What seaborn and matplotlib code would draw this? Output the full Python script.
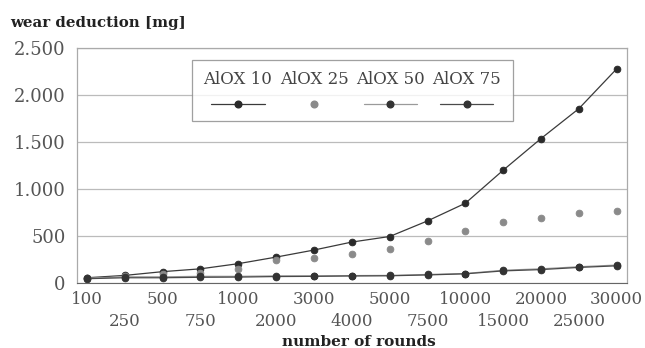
import matplotlib
matplotlib.use("Agg")
import matplotlib.pyplot as plt
from matplotlib.lines import Line2D
from matplotlib.offsetbox import VPacker
import seaborn as sns
import numpy as np
import pandas as pd

rounds = ["100", "250", "500", "750", "1000", "2000", "3000", "4000", "5000",
          "7500", "10000", "15000", "20000", "25000", "30000"]
alox10 = [55, 80, 120, 150, 205, 275, 350, 435, 494, 660, 848, 1200, 1537, 1855, 2279]
alox25 = [50, 75, 100, 110, 150, 240, 265, 310, 360, 450, 554, 653, 689, 742, 766]
alox50 = [50, 65, 65, 70, 70, 75, 75, 78, 80, 90, 100, 135, 150, 172, 190]
alox75 = [45, 55, 55, 60, 62, 68, 70, 74, 76, 85, 97, 128, 142, 165, 182]
series_names = ["AlOX 10", "AlOX 25", "AlOX 50", "AlOX 75"]

sns.set_style("white")
plt.rcParams["font.family"] = ["DejaVu Serif"]

fig = plt.figure(figsize=(6.45, 3.48), dpi=100)
ax = fig.add_axes([0.119, 0.187, 0.853, 0.675])

styles = [
    dict(color="#3a3a3a", linestyles="-", mcolor="#2a2a2a"),
    dict(color="#8a8a8a", linestyles="none", mcolor="#8a8a8a"),
    dict(color="#9a9a9a", linestyles="-", mcolor="#333333"),
    dict(color="#4a4a4a", linestyles="-", mcolor="#333333"),
]
all_vals = [alox10, alox25, alox50, alox75]

for name, vals, st in zip(series_names, all_vals, styles):
    df = pd.DataFrame({"rounds": rounds, "wear": vals})
    sns.pointplot(data=df, x="rounds", y="wear", order=rounds, ax=ax,
                  color=st["mcolor"], markers="o", linestyles=st["linestyles"],
                  markersize=4.8, linewidth=0.9, errorbar=None)
    if st["linestyles"] != "none":
        ax.lines[-1].set_color(st["color"])
        ax.lines[-1].set_markerfacecolor(st["mcolor"])
        ax.lines[-1].set_markeredgecolor(st["mcolor"])

ax.set_ylim(0, 2500)
ax.set_xlim(-0.27, 14.27)
ax.set_yticks([0, 500, 1000, 1500, 2000, 2500])
ax.set_yticklabels(["0", "500", "1.000", "1.500", "2.000", "2.500"],
                   fontsize=13, color="#555555")

# staggered category labels: even positions on the first row, odd on the second
pos = np.arange(len(rounds))
ax.set_xticks(pos[::2])
ax.set_xticklabels(rounds[::2], fontsize=12, color="#555555")
ax.set_xticks(pos[1::2], minor=True)
ax.set_xticklabels(rounds[1::2], minor=True, fontsize=12, color="#555555")
ax.tick_params(axis="x", which="major", length=3, color="#888888", pad=3)
ax.tick_params(axis="x", which="minor", length=3, color="#888888", pad=19)
ax.tick_params(axis="y", length=0, pad=8)
ax.yaxis.grid(True, color="#bbbbbb", linewidth=0.9)
ax.set_axisbelow(True)
for side in ["left", "right", "top"]:
    ax.spines[side].set_color("#aaaaaa")
    ax.spines[side].set_linewidth(0.9)
ax.spines["bottom"].set_color("#666666")
ax.set_xlabel("")
ax.set_ylabel("")

fig.text(0.016, 0.935, "wear deduction [mg]", fontsize=10.8, fontweight="bold",
         color="#222222", ha="left", va="center")
fig.text(0.556, 0.016, "number of rounds", fontsize=11, fontweight="bold",
         color="#222222", ha="center", va="center")

handles = []
for st in styles:
    handles.append(Line2D([], [], color=st["color"], linestyle="-" if st["linestyles"] != "none" else "none",
                          linewidth=0.9, marker="o", markersize=4.8,
                          markerfacecolor=st["mcolor"], markeredgecolor=st["mcolor"]))
leg = ax.legend(handles, series_names, ncol=4, loc="upper left",
                bbox_to_anchor=(0.209, 0.95), borderaxespad=0, fontsize=12,
                frameon=True, fancybox=False, edgecolor="#888888", handlelength=3.2,
                columnspacing=0.45, borderpad=0.7, labelcolor="#444444")
leg.get_frame().set_linewidth(0.9)
for col in leg._legend_handle_box.get_children():
    new = []
    for item in col.get_children():
        h, t = item.get_children()
        new.append(VPacker(pad=0, sep=7, children=[t, h], align="center"))
    col._children = new

fig.savefig("out.png", dpi=100)
